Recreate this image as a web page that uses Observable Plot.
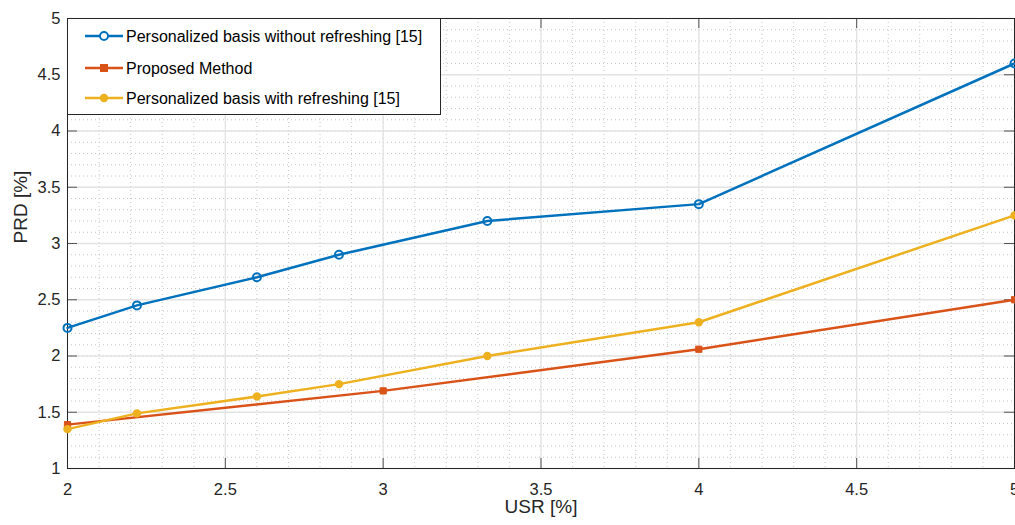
<!DOCTYPE html>
<html><head><meta charset="utf-8">
<script src="https://cdn.jsdelivr.net/npm/d3@7"></script>
<script src="https://cdn.jsdelivr.net/npm/@observablehq/plot@0.6"></script>
<style>
body{margin:0;background:#fff;overflow:hidden;}
svg{font-family:"Liberation Sans",Arial,Helvetica,sans-serif;}
</style>
</head><body><div id="chart"></div>
<script>
const usrA = [2, 2.22, 2.6, 2.86, 3.33, 4, 5];
const prdNoRefresh = [2.25, 2.45, 2.7, 2.9, 3.2, 3.35, 4.6];
const usrProposed = [2, 3, 4, 5];
const prdProposed = [1.39, 1.69, 2.06, 2.5];
const prdRefresh = [1.35, 1.49, 1.64, 1.75, 2.0, 2.3, 3.25];
const xTicks = [2, 2.5, 3, 3.5, 4, 4.5, 5];
const yTicks = [1, 1.5, 2, 2.5, 3, 3.5, 4, 4.5, 5];
const xMinor = d3.range(20, 51).map(d => d / 10);
const yMinor = d3.range(10, 51).map(d => d / 10);
const seriesNames = ["Personalized basis without refreshing [15]", "Proposed Method", "Personalized basis with refreshing [15]"];
const colors = ["#0072BD", "#D95319", "#EDB120"];

const W = 1015, H = 525, mL = 67, mT = 18, mB = 57, mR = 1;
const pw = W - mL - mR, ph = H - mT - mB;

const sNo = usrA.map((x, i) => ({x, y: prdNoRefresh[i]}));
const sPr = usrProposed.map((x, i) => ({x, y: prdProposed[i]}));
const sRe = usrA.map((x, i) => ({x, y: prdRefresh[i]}));

const axisColor = "#262626";
const chart = Plot.plot({
  width: W, height: H,
  marginLeft: mL, marginTop: mT, marginBottom: mB, marginRight: mR,
  x: {domain: [2, 5]},
  y: {domain: [1, 5]},
  style: {fontSize: "16.5px", color: axisColor, background: "#fff", overflow: "visible"},
  marks: [
    Plot.gridX(xMinor, {stroke: "#c6c6c6", strokeOpacity: 1, strokeDasharray: "1,3", strokeWidth: 1}),
    Plot.gridY(yMinor, {stroke: "#c6c6c6", strokeOpacity: 1, strokeDasharray: "1,3", strokeWidth: 1}),
    Plot.gridX(xTicks, {stroke: "#e3e3e3", strokeOpacity: 1, strokeWidth: 1.3}),
    Plot.gridY(yTicks, {stroke: "#e3e3e3", strokeOpacity: 1, strokeWidth: 1.3}),
    Plot.ruleX(xTicks, {x: d => d, insetTop: ph - 10, stroke: "#555"}),
    Plot.ruleX(xTicks, {x: d => d, insetBottom: ph - 10, stroke: "#555"}),
    Plot.ruleY(yTicks, {y: d => d, insetRight: pw - 10, stroke: "#555"}),
    Plot.ruleY(yTicks, {y: d => d, insetLeft: pw - 10, stroke: "#555"}),
    Plot.frame({stroke: axisColor, strokeWidth: 1}),
    Plot.axisX(xTicks, {tickSize: 0, tickPadding: 15, fontSize: 16.5, label: null, tickFormat: d => String(d)}),
    Plot.axisY(yTicks, {tickSize: 0, tickPadding: 7, fontSize: 16.5, label: null, tickFormat: d => String(d)}),
    Plot.text(["USR [%]"], {frameAnchor: "bottom", dy: 44, fontSize: 19, fill: axisColor}),
    Plot.text(["PRD [%]"], {frameAnchor: "left", dx: -46.5, rotate: -90, fontSize: 19, fill: axisColor}),
    Plot.line(sNo, {x: "x", y: "y", stroke: colors[0], strokeWidth: 2.5}),
    Plot.dot(sNo, {x: "x", y: "y", stroke: colors[0], r: 4, strokeWidth: 2, fill: "none"}),
    Plot.line(sPr, {x: "x", y: "y", stroke: colors[1], strokeWidth: 2.5}),
    Plot.dot(sPr, {x: "x", y: "y", symbol: "square", stroke: colors[1], fill: colors[1], r: 3.5, strokeWidth: 1}),
    Plot.line(sRe, {x: "x", y: "y", stroke: colors[2], strokeWidth: 2.5}),
    Plot.dot(sRe, {x: "x", y: "y", fill: colors[2], r: 4.2, stroke: "none"})
  ]
});
document.getElementById("chart").appendChild(chart);

// legend
const svg = d3.select(chart);
const lg = svg.append("g").attr("text-anchor", "start");
lg.append("rect").attr("x", mL + 0.5).attr("y", mT + 0.5).attr("width", 373).attr("height", 96)
  .attr("fill", "#fff").attr("stroke", axisColor).attr("stroke-width", 1);
const rowsY = [36, 68, 98];
seriesNames.forEach((name, i) => {
  const y = rowsY[i];
  lg.append("line").attr("x1", 85).attr("x2", 123).attr("y1", y).attr("y2", y)
    .attr("stroke", colors[i]).attr("stroke-width", 2.5);
  if (i === 0) lg.append("circle").attr("cx", 104).attr("cy", y).attr("r", 4).attr("fill", "#fff").attr("stroke", colors[0]).attr("stroke-width", 2);
  if (i === 1) lg.append("rect").attr("x", 100.5).attr("y", y - 3.5).attr("width", 7).attr("height", 7).attr("fill", colors[1]).attr("stroke", colors[1]);
  if (i === 2) lg.append("circle").attr("cx", 104).attr("cy", y).attr("r", 4.2).attr("fill", colors[2]);
  lg.append("text").attr("x", 126).attr("y", y).attr("dy", "0.35em").attr("font-size", 16)
    .attr("text-anchor", "start").attr("fill", "#000").text(name);
});
</script>
</body></html>
